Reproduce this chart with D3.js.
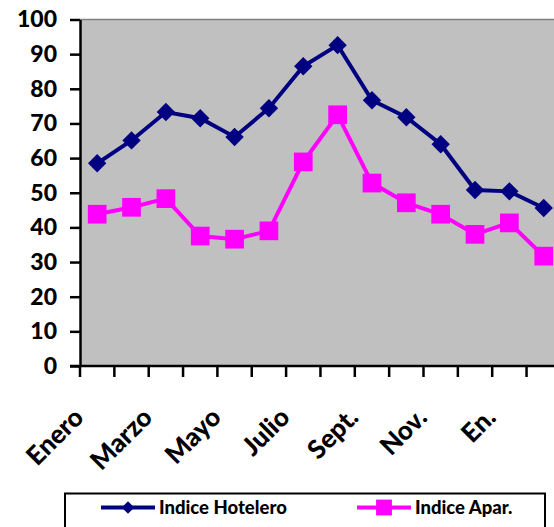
<!DOCTYPE html>
<html>
<head>
<meta charset="utf-8">
<script src="https://cdn.jsdelivr.net/npm/d3@7/dist/d3.min.js"></script>
<style>
  html, body { margin: 0; padding: 0; background: #fff; overflow: hidden; }
  svg { display: block; font-family: Lato, 'Open Sans', sans-serif; font-weight: 900; }
</style>
</head>
<body>
<svg id="chart" width="554" height="527"></svg>
<script>
  // ── Data ────────────────────────────────────────────────────────────────
  const MONTHS = ['Enero', 'Febrero', 'Marzo', 'Abril', 'Mayo', 'Junio', 'Julio',
                  'Agosto', 'Sept.', 'Oct.', 'Nov.', 'Dic.', 'En.', 'Feb.'];
  const X_LABELS = ['Enero', 'Marzo', 'Mayo', 'Julio', 'Sept.', 'Nov.', 'En.'];
  const HOTELERO = [58.5, 65.1, 73.3, 71.5, 66.1, 74.4, 86.5, 92.6, 76.7, 71.8, 64.0, 50.8, 50.4, 45.6];
  const APAR     = [43.8, 45.8, 48.3, 37.5, 36.6, 39.0, 58.9, 72.5, 52.8, 47.1, 43.8, 38.0, 41.3, 31.7];
  const Y_TICKS  = [0, 10, 20, 30, 40, 50, 60, 70, 80, 90, 100];
  const SERIES = [
    { name: 'Indice Hotelero', values: HOTELERO, color: '#000080', shape: 'diamond' },
    { name: 'Indice Apar.',    values: APAR,     color: '#FF00FF', shape: 'square' },
  ];

  const svg = d3.select('#chart');
  const LEFT = 80, TOP = 19.5, BOTTOM = 366, BAND = 34.35;

  const x = d3.scaleBand().domain(MONTHS).range([LEFT, LEFT + BAND * MONTHS.length]).padding(0);
  const y = d3.scaleLinear().domain([0, 100]).range([BOTTOM, TOP]);
  const cx = d => x(d) + x.bandwidth() / 2;

  // ── Plot area ───────────────────────────────────────────────────────────
  svg.append('rect')
    .attr('x', LEFT).attr('y', y(100))
    .attr('width', x.range()[1] - LEFT).attr('height', y(0) - y(100))
    .attr('fill', '#C0C0C0');
  svg.append('line')
    .attr('x1', LEFT).attr('x2', x.range()[1])
    .attr('y1', y(100)).attr('y2', y(100))
    .attr('stroke', '#808080').attr('stroke-width', 1.5);

  // ── Y axis ──────────────────────────────────────────────────────────────
  svg.append('g')
    .attr('transform', `translate(${LEFT},0)`)
    .call(d3.axisLeft(y).tickValues(Y_TICKS).tickSize(10).tickPadding(13).tickSizeOuter(0))
    .call(g => g.select('.domain').attr('stroke', '#000').attr('stroke-width', 2.5))
    .call(g => g.selectAll('.tick line').attr('stroke', '#000').attr('stroke-width', 2.5))
    .call(g => g.selectAll('.tick text')
      .attr('fill', '#000').attr('font-size', '23px')
      .attr('font-family', 'Lato, sans-serif').attr('font-weight', 900));

  // ── X axis (ticks on band edges, like the spreadsheet) ─────────────────
  const xg = svg.append('g');
  xg.append('line')
    .attr('x1', LEFT - 10).attr('x2', x.range()[1])
    .attr('y1', y(0)).attr('y2', y(0))
    .attr('stroke', '#000').attr('stroke-width', 2.5);
  const edges = MONTHS.map(m => x(m)).concat([x.range()[1]]);
  xg.selectAll('line.tk').data(edges).join('line').attr('class', 'tk')
    .attr('x1', d => d).attr('x2', d => d)
    .attr('y1', y(0)).attr('y2', y(0) + 11)
    .attr('stroke', '#000').attr('stroke-width', 2.5);
  xg.selectAll('text').data(X_LABELS).join('text')
    .attr('transform', d => `translate(${cx(d) - 12},419) rotate(-45)`)
    .attr('text-anchor', 'end')
    .attr('font-size', '26px')
    .attr('fill', '#000')
    .text(d => d);

  // ── Lines + markers ─────────────────────────────────────────────────────
  const line = d3.line().x((d, i) => cx(MONTHS[i])).y(d => y(d));
  const diamond = d3.symbol().type(d3.symbolDiamond2).size(215);
  const square  = d3.symbol().type(d3.symbolSquare).size(350);

  SERIES.forEach(s => {
    const g = svg.append('g');
    g.append('path').datum(s.values)
      .attr('d', line)
      .attr('fill', 'none')
      .attr('stroke', s.color)
      .attr('stroke-width', 4);
    g.selectAll('path.mk').data(s.values).join('path').attr('class', 'mk')
      .attr('transform', (d, i) => `translate(${cx(MONTHS[i])},${y(d)})`)
      .attr('d', s.shape === 'diamond' ? diamond : square)
      .attr('fill', s.color);
  });

  // ── Legend ──────────────────────────────────────────────────────────────
  svg.append('rect')
    .attr('x', 65).attr('y', 493.5).attr('width', 480).attr('height', 60)
    .attr('fill', '#fff').attr('stroke', '#000').attr('stroke-width', 2);
  const LEG_X = [101, 357];
  SERIES.forEach((s, i) => {
    const g = svg.append('g').attr('transform', `translate(${LEG_X[i]},507.5)`);
    g.append('line').attr('x1', 0).attr('x2', 54).attr('y1', 0).attr('y2', 0)
      .attr('stroke', s.color).attr('stroke-width', 4);
    g.append('path')
      .attr('transform', 'translate(27,0)')
      .attr('d', s.shape === 'diamond'
        ? d3.symbol().type(d3.symbolDiamond2).size(100)()
        : d3.symbol().type(d3.symbolSquare).size(250)())
      .attr('fill', s.color);
    g.append('text').attr('x', 58).attr('y', 6.5)
      .attr('font-size', '18.5px').attr('fill', '#000')
      .text(s.name);
  });
</script>
</body>
</html>
